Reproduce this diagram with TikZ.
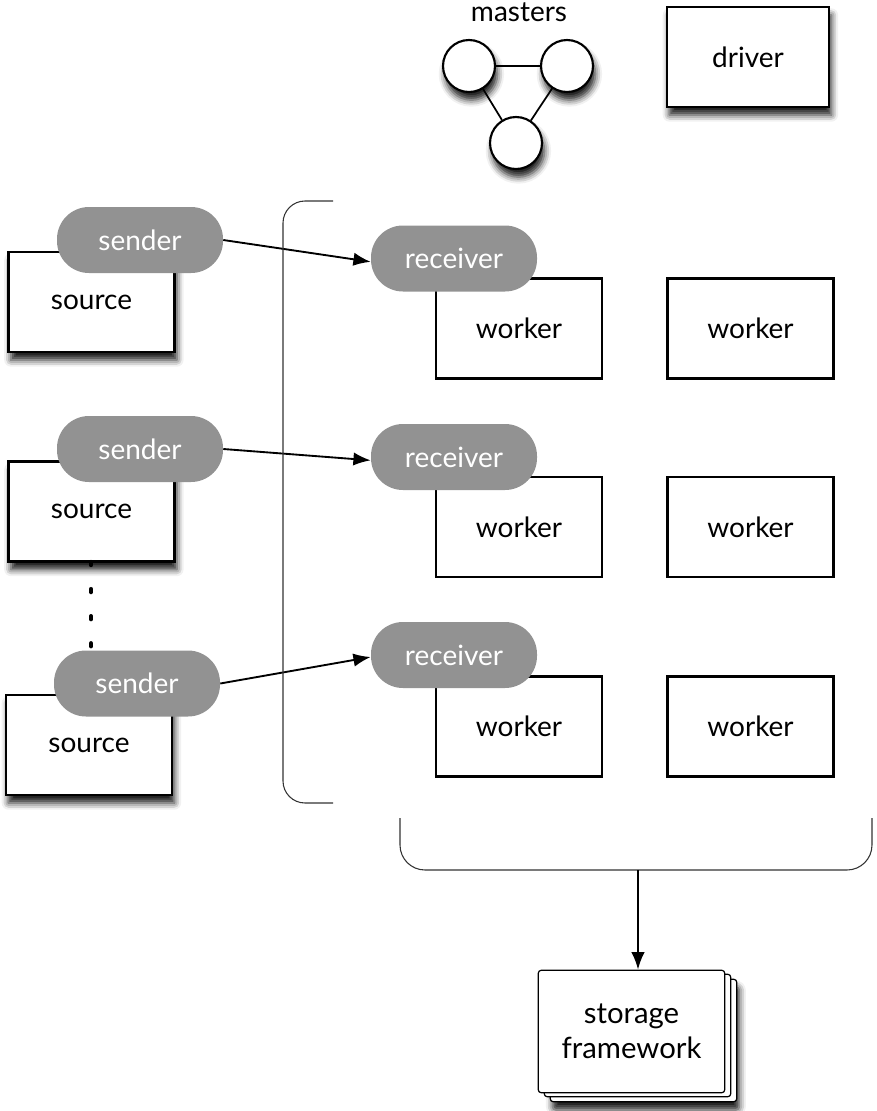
\documentclass[tikz,border=0pt]{standalone}
\usepackage{fontspec}
\setmainfont{Lato}
\usetikzlibrary{arrows.meta,shadows.blur}
\definecolor{pillgray}{HTML}{929292}
\definecolor{bracketgray}{HTML}{333333}
\begin{document}
\begin{tikzpicture}[x=0.75pt,y=-0.75pt,
  lbl/.style={font=\fontsize{21}{24}\selectfont},
  shadowed/.style={blur shadow={shadow xshift=1.8pt,shadow yshift=-6pt,
      shadow blur radius=5pt,shadow opacity=90}},
  box/.style={lbl,draw,line width=1.6pt,fill=white,inner sep=0pt,
      minimum width=124.5pt,minimum height=75pt},
  srcbox/.style={box,shadowed},
  pill/.style={lbl,fill=pillgray,text=white,rounded corners=24pt,inner sep=0pt,
      minimum width=124.5pt,minimum height=49.5pt},
  master/.style={circle,draw,line width=1.6pt,fill=white,minimum size=39pt,
      inner sep=0pt,shadowed},
  page/.style={draw,line width=0.9pt,fill=white,rounded corners=2.5pt,
      minimum width=140pt,minimum height=92pt,inner sep=0pt},
  flow/.style={line width=1.4pt,-{Latex[length=13pt,width=10pt]}},
  bracket/.style={draw=bracketgray,line width=0.8pt},
]
\useasboundingbox (0,0) rectangle (877,1111);

% masters
\node[lbl] (mlabel) at (519,12) {masters};
\node[master] (m1) at (469,66) {};
\node[master] (m2) at (567,66) {};
\node[master] (m3) at (516,143) {};
\draw[line width=1.3pt] (m1) -- (m2) (m1) -- (m3) (m2) -- (m3);

% driver
\node[srcbox,minimum width=121.5pt] (driver) at (748,57) {driver};

% sources with their senders
\node[srcbox] (src1) at (91.5,302) {source};
\node[srcbox] (src2) at (91.5,511.5) {source};
\node[srcbox] (src3) at (89,745) {source};

\coordinate (dtop) at (91,562);
\coordinate (dbot) at (91,650);
\draw[line width=3.2pt,line cap=round,dash pattern=on 2.3pt off 18pt]
  (dtop) -- (dbot);

\node[pill] (snd1) at (140,240) {sender};
\node[pill] (snd2) at (140,449) {sender};
\node[pill] (snd3) at (137,683.5) {sender};

% workers
\node[box] (w11) at (519,328.5) {worker};
\node[box] (w12) at (750.5,328.5) {worker};
\node[box] (w21) at (519,527) {worker};
\node[box] (w22) at (750.5,527) {worker};
\node[box] (w31) at (519,726.5) {worker};
\node[box] (w32) at (750.5,726.5) {worker};

% receivers
\node[pill] (rcv1) at (454,258.5) {receiver};
\node[pill] (rcv2) at (454,457) {receiver};
\node[pill] (rcv3) at (454,655) {receiver};

% sender -> receiver links
\draw[flow] (snd1.east) -- ([yshift=-2.5pt]rcv1.west);
\draw[flow] (snd2.east) -- ([yshift=-2.5pt]rcv2.west);
\draw[flow] (snd3.east) -- ([yshift=-1.5pt]rcv3.west);

% bracket around the worker cluster (y axis points down here)
\coordinate (lbtop) at (333,201);
\coordinate (lbbot) at (333,803);
\draw[bracket] (lbtop) -- (305,201) arc[start angle=270,end angle=180,radius=22]
  -- (283,781) arc[start angle=180,end angle=90,radius=22] -- (lbbot);

% bracket collecting the workers' output
\coordinate (bbl) at (400,818);
\coordinate (bbr) at (872,818);
\coordinate (stem) at (638,870);
\draw[bracket] (bbl) -- (400,845) arc[start angle=180,end angle=90,radius=25]
  -- (847,870) arc[start angle=90,end angle=0,radius=25] -- (bbr);

% storage framework (stacked pages)
\node[page,shadowed] (st3) at (643.5,1040.5) {};
\node[page] (st2) at (637.5,1035.5) {};
\node[page,align=center,font=\fontsize{22}{26}\selectfont] (st) at (631.5,1031.5) {storage\\framework};

\draw[flow] (stem) -- (stem |- st.north);
\end{tikzpicture}
\end{document}
